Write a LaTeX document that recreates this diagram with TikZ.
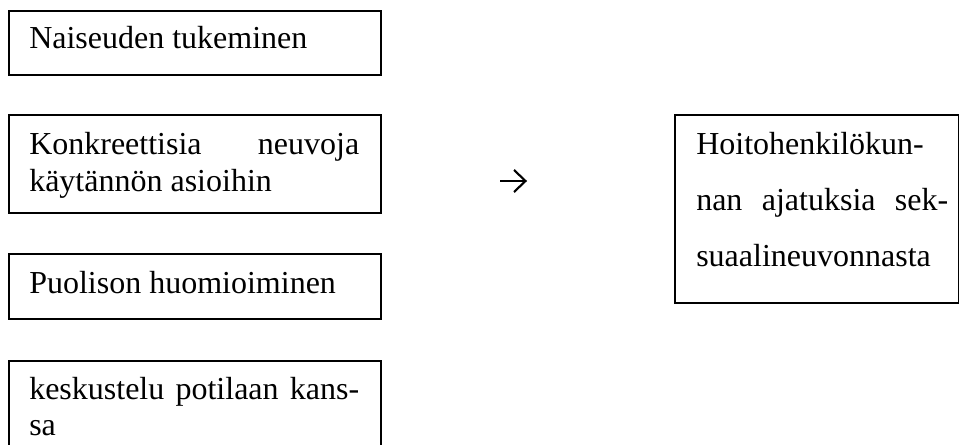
\documentclass[tikz,border=0pt]{standalone}
\usepackage{fontspec}
\setmainfont{Liberation Serif}
\tikzset{
  box/.style={draw, line width=1.4pt, inner sep=0pt, anchor=north west},
  txt/.style={anchor=base west, inner sep=0pt, font=\fontsize{24}{27.75}\selectfont},
  arrowglyph/.style={line width=1.6pt}
}
\begin{document}
\begin{tikzpicture}[x=0.75pt,y=-0.75pt]
\clip (0,0) rectangle (959,445);
% boxes
\node[box, minimum width=279pt, minimum height=48pt] (b1) at (8,10) {};
\node[box, minimum width=279pt, minimum height=73.5pt] (b2) at (8,114) {};
\node[box, minimum width=279pt, minimum height=48.75pt] (b3) at (8,253) {};
\node[box, minimum width=279pt, minimum height=80pt] (b4) at (8,360) {};
\node[box, minimum width=213pt, minimum height=141pt] (r) at (674,114) {};
% texts
\node[txt] (t1) at (29,48.5) {Naiseuden tukeminen};
\node[txt] (t2a) at (29,155) {\makebox[247.5pt][s]{Konkreettisia neuvoja}};
\node[txt] (t2b) at (29,192) {käytännön asioihin};
\node[txt] (t3) at (29,293) {Puolison huomioiminen};
\node[txt] (t4a) at (29,399) {\makebox[247.5pt][s]{keskustelu potilaan kans-}};
\node[txt] (t4b) at (29,435) {sa};
\node[txt] (r1) at (696,155) {Hoitohenkilökun-};
\node[txt] (r2) at (696,210) {\makebox[189pt][s]{nan ajatuksia sek-}};
\node[txt] (r3) at (696,266) {suaalineuvonnasta};
% arrow glyph
\coordinate (a0) at (500,181);
\coordinate (a1) at (525,181);
\draw[arrowglyph] (a0) -- (a1);
\draw[arrowglyph, miter limit=10] (514,170) -- (525.5,181) -- (514,192);
\end{tikzpicture}
\end{document}
